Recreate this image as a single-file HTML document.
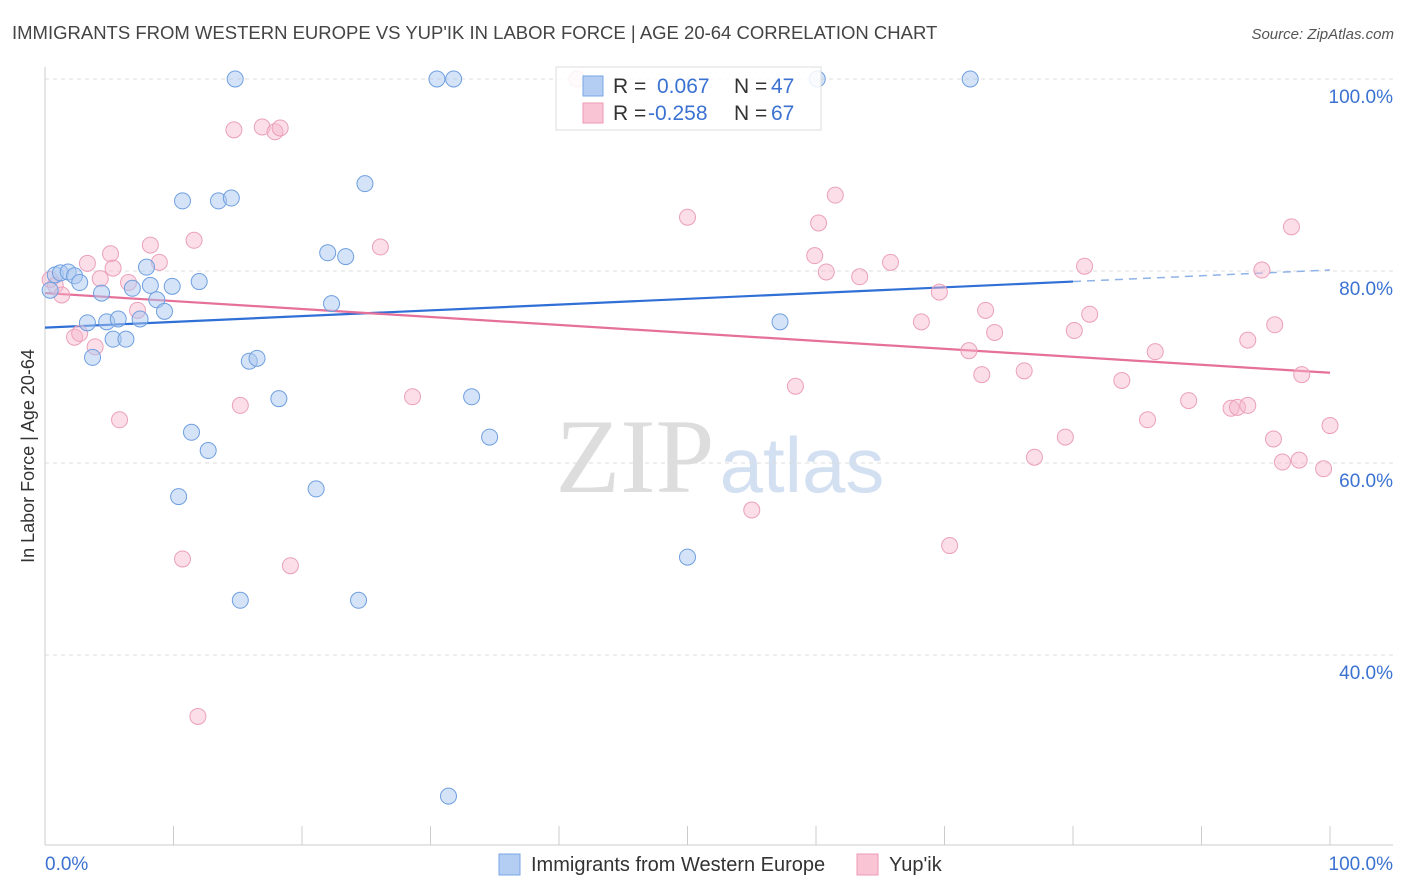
<!DOCTYPE html>
<html><head><meta charset="utf-8"><style>
body{margin:0;background:#fff;font-family:"Liberation Sans",sans-serif}
svg{display:block}
</style></head><body>
<svg id="c" width="1406" height="892">
<text x="12" y="39" font-size="18.5" fill="#444">IMMIGRANTS FROM WESTERN EUROPE VS YUP'IK IN LABOR FORCE | AGE 20-64 CORRELATION CHART</text>
<text x="1394" y="39" font-size="15" fill="#555" font-style="italic" text-anchor="end">Source: ZipAtlas.com</text>
<g>
<text x="635" y="492" font-size="106" font-family="Liberation Serif,serif" fill="#ddd" text-anchor="middle">ZIP</text>
<text x="802" y="492" font-size="78" fill="#d3e0f2" text-anchor="middle">atlas</text>
</g>
<g id="grid"></g><g id="axes"></g><g id="trend"></g><g id="pts"></g>
<text transform="translate(34,456) rotate(-90)" font-size="18" fill="#333" text-anchor="middle">In Labor Force | Age 20-64</text>
<g>
<rect x="556" y="67" width="265" height="63" fill="rgba(255,255,255,0.85)" stroke="#ddd"/>
<rect x="583" y="76" width="20" height="20" fill="#b4cef3" stroke="#7aa6e4"/>
<rect x="583" y="103" width="20" height="20" fill="#f9c4d4" stroke="#ec9ab6"/>
<text x="613" y="93" font-size="21" fill="#333">R =</text>
<text x="657" y="93" font-size="21" fill="#3b72d1">0.067</text>
<text x="734" y="93" font-size="21" fill="#333">N =</text>
<text x="771" y="93" font-size="21" fill="#3b72d1">47</text>
<text x="613" y="120" font-size="21" fill="#333">R =</text>
<text x="648" y="120" font-size="21" fill="#3b72d1">-0.258</text>
<text x="734" y="120" font-size="21" fill="#333">N =</text>
<text x="771" y="120" font-size="21" fill="#3b72d1">67</text>
</g>
<g>
<rect x="499" y="854" width="21" height="21" fill="#b4cef3" stroke="#7aa6e4"/>
<text x="531" y="871" font-size="20" fill="#333">Immigrants from Western Europe</text>
<rect x="857" y="854" width="21" height="21" fill="#f9c4d4" stroke="#ec9ab6"/>
<text x="889" y="871" font-size="20" fill="#333">Yup'ik</text>
</g>
</svg>
<script>
const blueX=[0.4,0.8,1.2,1.8,2.3,2.7,3.3,3.7,4.4,4.8,5.3,5.7,6.3,6.8,7.4,7.9,8.2,8.7,9.3,9.9,10.7,11.4,12.0,12.7,10.4,13.5,14.5,14.8,15.2,15.9,16.5,18.2,21.1,22.0,22.3,23.4,24.4,24.9,30.5,31.8,31.4,33.2,34.6,50.0,57.2,60.1,72.0];
const blueY=[78.0,79.6,79.8,79.9,79.5,78.8,74.6,71.0,77.7,74.7,72.9,75.0,72.9,78.2,75.0,80.4,78.5,77.0,75.8,78.4,87.3,63.2,78.9,61.3,56.5,87.3,87.6,100,45.7,70.6,70.9,66.7,57.3,81.9,76.6,81.5,45.7,89.1,100,100,25.3,66.9,62.7,50.2,74.7,100,100];
const pinkX=[0.4,0.8,1.3,2.3,2.7,3.3,3.9,4.3,5.1,5.3,5.8,6.5,7.2,8.2,8.9,10.7,11.6,11.9,14.7,15.2,16.9,17.9,18.3,19.1,26.1,28.6,41.4,50.0,55.0,58.4,59.9,60.2,60.8,61.5,63.4,65.8,68.2,69.6,70.4,71.9,72.9,73.2,73.9,76.2,77.0,79.4,80.1,80.9,81.3,83.8,85.8,86.4,89.0,92.3,92.8,93.6,94.7,93.6,95.7,95.6,96.3,97.0,97.6,97.8,99.5,100];
const pinkY=[79.1,78.5,77.5,73.1,73.5,80.8,72.1,79.2,81.8,80.3,64.5,78.8,75.9,82.7,80.9,50.0,83.2,33.6,94.7,66.0,95.0,94.5,94.9,49.3,82.5,66.9,100,85.6,55.1,68.0,81.6,85.0,79.9,87.9,79.4,80.9,74.7,77.8,51.4,71.7,69.2,75.9,73.6,69.6,60.6,62.7,73.8,80.5,75.5,68.6,64.5,71.6,66.5,65.7,65.8,66.0,80.1,72.8,74.4,62.5,60.1,84.6,60.3,69.2,59.4,63.9];
const blueTrend=[74.1,78.9,80.1]; const blueTrendX=[0,80,100];
const pinkTrend=[77.7,69.4]; const pinkTrendX=[0,100];
const yTicks=[100,80,60,40];
const yTickLabels=["100.0%","80.0%","60.0%","40.0%"];
const xTickVals=[0,10,20,30,40,50,60,70,80,90,100];
const xLabels=["0.0%","100.0%"];
const NS="http://www.w3.org/2000/svg";
const X=v=>45+v*12.85, Y=v=>79+(100-v)*9.6;
function mk(tag,parent,attrs){const e=document.createElementNS(NS,tag);for(const k in attrs)e.setAttribute(k,attrs[k]);document.getElementById(parent).appendChild(e);return e;}
yTicks.forEach((t,i)=>{
 const g=mk('line','grid',{x1:45,x2:1393,y1:Y(t),y2:Y(t),stroke:'#ddd','stroke-dasharray':'4,4'});
 
 
 const l=mk('text','grid',{x:1393,y:Y(t)+24,'font-size':19,fill:'#3b72d1','text-anchor':'end'});l.textContent=yTickLabels[i];
 
 
});
const ax=mk('line','axes',{x1:45,x2:45,y1:67,y2:845,stroke:'#ccc'});


const bx=mk('line','axes',{x1:45,x2:1393,y1:845,y2:845,stroke:'#ccc'});


xTickVals.forEach(v=>{const t=mk('line','axes',{x1:X(v),x2:X(v),y1:826,y2:845,stroke:'#ccc'});
 
 });
const xl0=mk('text','axes',{x:45,y:870,'font-size':19,fill:'#3b72d1'});xl0.textContent=xLabels[0];


const xl1=mk('text','axes',{x:1393,y:870,'font-size':19,fill:'#3b72d1','text-anchor':'end'});xl1.textContent=xLabels[1];


const bt=mk('line','trend',{x1:X(blueTrendX[0]),y1:Y(blueTrend[0]),x2:X(blueTrendX[1]),y2:Y(blueTrend[1]),stroke:'#2f6fd6','stroke-width':2.2});


const bd=mk('line','trend',{x1:X(blueTrendX[1]),y1:Y(blueTrend[1]),x2:X(blueTrendX[2]),y2:Y(blueTrend[2]),stroke:'#8fb2e8','stroke-width':1.5,'stroke-dasharray':'8,6'});


const pt=mk('line','trend',{x1:X(pinkTrendX[0]),y1:Y(pinkTrend[0]),x2:X(pinkTrendX[1]),y2:Y(pinkTrend[1]),stroke:'#e5709a','stroke-width':2.2});


pinkX.forEach((x,i)=>{const c=mk('circle','pts',{cx:X(x),cy:Y(pinkY[i]),r:8,fill:'rgba(247,182,203,0.45)',stroke:'#eba0ba','stroke-width':1});
 
 });
blueX.forEach((x,i)=>{const c=mk('circle','pts',{cx:X(x),cy:Y(blueY[i]),r:8,fill:'rgba(169,199,240,0.5)',stroke:'#6f9fe0','stroke-width':1});
 
 });
</script>
</body></html>
